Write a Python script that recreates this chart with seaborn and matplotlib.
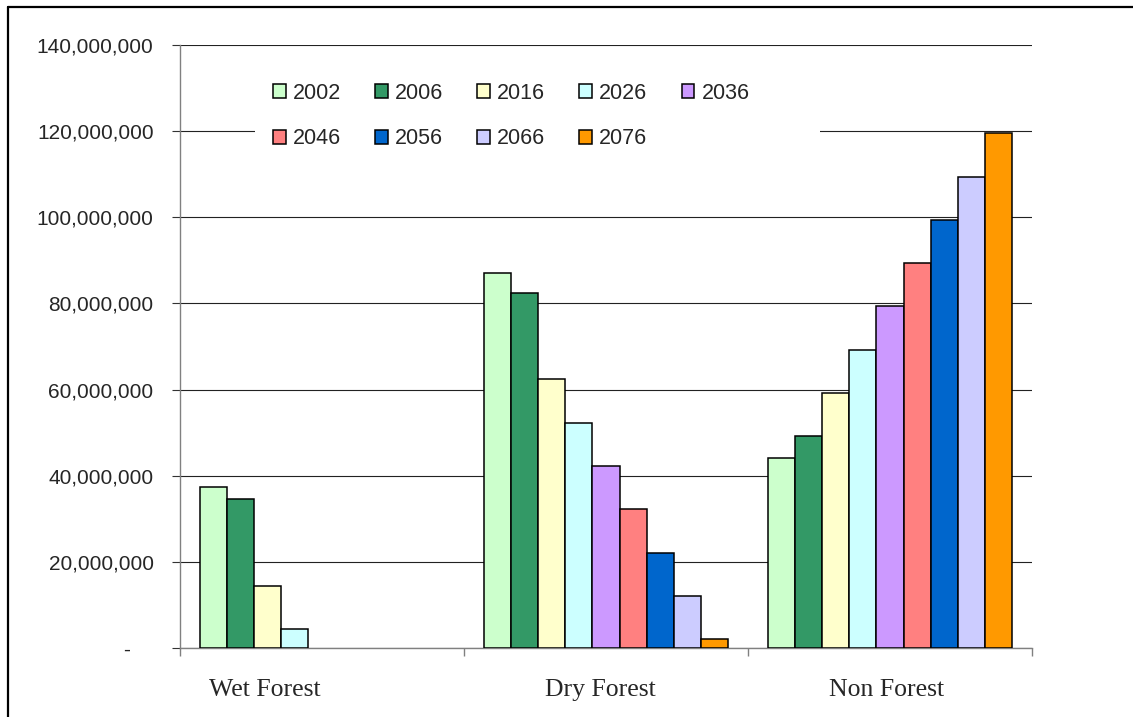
import matplotlib
matplotlib.use("Agg")
import matplotlib.pyplot as plt
import matplotlib.ticker as mticker
import matplotlib.transforms as mtransforms
from matplotlib.lines import Line2D
from matplotlib.patches import Rectangle
import numpy as np
import pandas as pd
import seaborn as sns

# Area by land class for each projection year
regions = ["Wet Forest", "Dry Forest", "Non Forest"]
years = ["2002", "2006", "2016", "2026", "2036", "2046", "2056", "2066", "2076"]
wet_forest = [37.3e6, 34.6e6, 14.5e6, 4.4e6, np.nan, np.nan, np.nan, np.nan, np.nan]
dry_forest = [87.0e6, 82.5e6, 62.4e6, 52.3e6, 42.3e6, 32.3e6, 22.1e6, 12.1e6, 2.1e6]
non_forest = [44.1e6, 49.2e6, 59.2e6, 69.3e6, 79.3e6, 89.3e6, 99.4e6, 109.4e6, 119.5e6]
year_colors = ["#CCFFCC", "#339966", "#FFFFCC", "#CCFFFF", "#CC99FF",
               "#FF8080", "#0066CC", "#CCCCFF", "#FF9900"]
y_ticks = [0, 20e6, 40e6, 60e6, 80e6, 100e6, 120e6, 140e6]

rows = []
for region, vals in zip(regions, [wet_forest, dry_forest, non_forest]):
    for yr, v in zip(years, vals):
        rows.append({"region": region, "year": yr, "area": v})
df = pd.DataFrame(rows).dropna()

sns.set_style("white")
plt.rcParams["font.family"] = ["Liberation Sans", "DejaVu Sans"]

W, H = 1133, 717
fig = plt.figure(figsize=(W / 100, H / 100), dpi=100)
ax = fig.add_axes([180 / W, 1 - 648 / H, (1032 - 180) / W, (648 - 45) / H])

sns.barplot(data=df, x="region", y="area", hue="year", order=regions,
            hue_order=years, palette=year_colors, saturation=1,
            width=9 / 10.5, gap=0, edgecolor="black", linewidth=1.1,
            errorbar=None, ax=ax, zorder=3)

ax.set_xlim(-0.5, 2.5)
ax.set_ylim(0, 140e6)
ax.set_yticks(y_ticks)

def fmt(v, pos):
    if v == 0:
        return "-    "
    return f"{v:,.0f}"

ax.yaxis.set_major_formatter(mticker.FuncFormatter(fmt))
ax.grid(axis="y", color="#222222", linewidth=0.8, zorder=0)
ax.set_axisbelow(True)
ax.set_xlabel("")
ax.set_ylabel("")

for side in ["top", "right"]:
    ax.spines[side].set_visible(False)
for side in ["left", "bottom"]:
    ax.spines[side].set_color("#808080")
    ax.spines[side].set_linewidth(1.0)
    ax.spines[side].set_zorder(2)

ax.tick_params(axis="y", which="major", direction="out", length=6, width=0.8,
               color="#333333", pad=13, labelsize=15, left=True)
ax.tick_params(axis="x", which="major", length=0, pad=22)
ax.xaxis.set_minor_locator(mticker.FixedLocator([-0.5, 0.5, 1.5, 2.5]))
ax.tick_params(axis="x", which="minor", direction="out", length=6, width=1.0,
               color="#808080", bottom=True)

# category labels, with the first one nudged left
label_shift_px = [-57, -6, -3]
for lab, dx in zip(ax.get_xticklabels(), label_shift_px):
    lab.set_fontfamily(["Liberation Serif", "DejaVu Serif"])
    lab.set_fontsize(18.5)
    lab.set_transform(lab.get_transform() +
                      mtransforms.ScaledTranslation(dx / 100, 0, fig.dpi_scale_trans))

# white legend area that interrupts the gridlines
ax.add_patch(Rectangle((255 / W, 1 - 160 / H), (820 - 255) / W, 90 / H,
                       transform=fig.transFigure, facecolor="white",
                       edgecolor="none", zorder=1))

# legend filled row by row: 5 entries on the first row, 4 on the second
handles, labels = ax.get_legend_handles_labels()
if ax.get_legend() is not None:
    ax.get_legend().remove()
hmap = dict(zip(labels, handles))
order = []
for c in range(5):
    order.append(years[c])
    if c + 5 < len(years):
        order.append(years[c + 5])
leg = ax.legend([hmap[k] for k in order], order, ncol=5, loc="upper left",
                bbox_to_anchor=(264 / W, 1 - 74 / H),
                bbox_transform=fig.transFigure,
                fontsize=15.5, frameon=False,
                handlelength=0.6, handleheight=0.6, handletextpad=0.33,
                columnspacing=1.58, labelspacing=1.15, borderpad=0.4,
                borderaxespad=0)
leg.set_zorder(5)

# outer chart frame
fig.add_artist(Line2D([8 / W, 1.0], [1 - 7 / H, 1 - 7 / H], color="black",
                      linewidth=1.6, transform=fig.transFigure))
fig.add_artist(Line2D([8 / W, 8 / W], [1 - 7 / H, 0.0], color="black",
                      linewidth=1.6, transform=fig.transFigure))

fig.savefig("out.png", dpi=100, facecolor="white")
